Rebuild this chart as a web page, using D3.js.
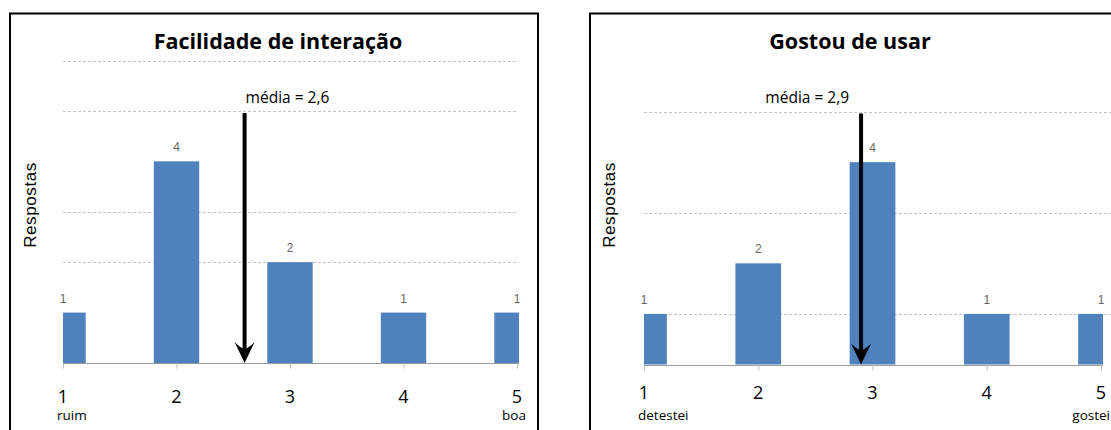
<!DOCTYPE html>
<html>
<head>
<meta charset="utf-8">
<script src="https://cdn.jsdelivr.net/npm/d3@7"></script>
<style>
  html, body { margin: 0; padding: 0; background: #ffffff; }
  svg { display: block; }
</style>
</head>
<body>
<svg id="chart" width="1111" height="430"></svg>
<script>
// Likert scale points shared by both panels
const scores = [1, 2, 3, 4, 5];
const scoreTicks = ["1", "2", "3", "4", "5"];

// Panel 1: ease of interaction
const facilidadeTitle = "Facilidade de interação";
const facilidadeCounts = [1, 4, 2, 1, 1];
const facilidadeMean = 2.6;
const facilidadeEnds = ["ruim", "boa"];
const facilidadeGrid = [2, 3, 5, 6];

// Panel 2: liked using it
const gostouTitle = "Gostou de usar";
const gostouCounts = [1, 2, 4, 1, 1];
const gostouMean = 2.9;
const gostouEnds = ["detestei", "gostei"];
const gostouGrid = [1, 3, 5];

const yAxisTitle = "Respostas";
const meanPrefix = "média = ";
const yMax = 6;

const svg = d3.select("#chart");
const uiFont = "'Open Sans', 'Noto Sans', sans-serif";
const barColor = "#4f81bd";

function fmtComma(v) { return v.toFixed(1).replace(".", ","); }

function drawPanel(opt) {
  const g = svg.append("g");

  // outer frame
  g.append("rect")
    .attr("x", opt.frame[0]).attr("y", opt.frame[1])
    .attr("width", opt.frame[2]).attr("height", 500)
    .attr("fill", "none").attr("stroke", "#000").attr("stroke-width", 2);

  const x = d3.scaleLinear().domain([1, 5]).range([opt.x0, opt.x1]);
  const y = d3.scaleLinear().domain([0, yMax]).range([opt.base, opt.top]);
  const unit = x(2) - x(1);
  const bw = unit * 0.4;

  // title
  g.append("text")
    .attr("x", opt.titleX).attr("y", 49)
    .attr("text-anchor", "middle")
    .attr("font-family", uiFont).attr("font-weight", 700)
    .attr("font-size", 21.5).attr("fill", "#000")
    .text(opt.title);

  // dashed horizontal gridlines
  g.selectAll("line.grid").data(opt.grid).join("line")
    .attr("class", "grid")
    .attr("x1", x(1)).attr("x2", opt.gridEnd)
    .attr("y1", d => Math.round(y(d)) + 0.5).attr("y2", d => Math.round(y(d)) + 0.5)
    .attr("stroke", "#c4c4c4").attr("stroke-width", 1)
    .attr("stroke-dasharray", "3,2");

  // bars, clipped to the plot range
  const clipId = "clip-" + opt.id;
  g.append("clipPath").attr("id", clipId)
    .append("rect")
    .attr("x", x(1)).attr("y", 0)
    .attr("width", x(5) - x(1) + 2).attr("height", 430);

  g.append("g").attr("clip-path", `url(#${clipId})`)
    .selectAll("rect").data(scores).join("rect")
    .attr("x", (d) => x(d) - bw / 2)
    .attr("width", bw)
    .attr("y", (d, i) => y(opt.counts[i]))
    .attr("height", (d, i) => y(0) - y(opt.counts[i]))
    .attr("fill", barColor);

  // value labels
  g.selectAll("text.val").data(scores).join("text")
    .attr("class", "val")
    .attr("x", d => x(d))
    .attr("y", (d, i) => y(opt.counts[i]) - 10)
    .attr("text-anchor", "middle")
    .attr("font-family", "'Liberation Sans', Arial, sans-serif")
    .attr("font-size", 12).attr("fill", "#666666")
    .text((d, i) => opt.counts[i]);

  // category axis
  const axis = d3.axisBottom(x).tickValues(scores).tickSize(5).tickFormat("");
  const ax = g.append("g")
    .attr("transform", `translate(0,${Math.round(y(0)) + 0.5})`)
    .call(axis);
  ax.select(".domain").attr("stroke", "#9a9a9a").attr("d", `M${x(1)},0H${x(5) + 2}`);
  ax.selectAll(".tick line").attr("stroke", "#bfbfbf");

  // tick numbers
  g.selectAll("text.tick").data(scores).join("text")
    .attr("class", "tick")
    .attr("x", d => x(d))
    .attr("y", y(0) + opt.tickDy)
    .attr("text-anchor", "middle")
    .attr("font-family", uiFont).attr("font-size", 18).attr("fill", "#000")
    .text((d, i) => scoreTicks[i]);

  // scale end descriptions
  g.append("text")
    .attr("x", x(1) - 6).attr("y", 420)
    .attr("font-family", uiFont).attr("font-size", 13.5).attr("fill", "#000")
    .text(opt.ends[0]);
  g.append("text")
    .attr("x", x(5) + 9).attr("y", 420)
    .attr("text-anchor", "end")
    .attr("font-family", uiFont).attr("font-size", 13.5).attr("fill", "#000")
    .text(opt.ends[1]);

  // y axis title
  g.append("text")
    .attr("transform", `translate(${opt.yTitleX},205) rotate(-90)`)
    .attr("text-anchor", "middle")
    .attr("font-family", "'Liberation Sans', Arial, sans-serif")
    .attr("font-size", 17).attr("fill", "#000")
    .attr("letter-spacing", 0.6)
    .text(yAxisTitle);

  // mean arrow
  const mx = x(opt.mean);
  const tip = y(0);
  g.append("line")
    .attr("x1", mx).attr("x2", mx)
    .attr("y1", y(5) + 2).attr("y2", tip - 12)
    .attr("stroke", "#000").attr("stroke-width", 4);
  g.append("path")
    .attr("d", `M${mx},${tip} L${mx - 10},${tip - 21} Q${mx - 4},${tip - 15} ${mx},${tip - 14} Q${mx + 4},${tip - 15} ${mx + 10},${tip - 21} Z`)
    .attr("fill", "#000");

  g.append("text")
    .attr("x", opt.meanAnchor === "start" ? mx + 1 : mx - 12)
    .attr("y", 103)
    .attr("text-anchor", opt.meanAnchor)
    .attr("font-family", uiFont).attr("font-size", 15.5).attr("fill", "#000")
    .text(meanPrefix + fmtComma(opt.mean));
}

drawPanel({
  id: "facilidade",
  frame: [10, 13.5, 528],
  x0: 63, x1: 517, base: 363, top: 60.5, gridEnd: 517,
  titleX: 278, yTitleX: 36, tickDy: 40,
  title: facilidadeTitle, counts: facilidadeCounts, mean: facilidadeMean,
  ends: facilidadeEnds, grid: facilidadeGrid, meanAnchor: "start"
});

drawPanel({
  id: "gostou",
  frame: [590, 13.5, 600],
  x0: 644, x1: 1101, base: 364.5, top: 61, gridEnd: 1111,
  titleX: 850, yTitleX: 615, tickDy: 34,
  title: gostouTitle, counts: gostouCounts, mean: gostouMean,
  ends: gostouEnds, grid: gostouGrid, meanAnchor: "end"
});
</script>
</body>
</html>
